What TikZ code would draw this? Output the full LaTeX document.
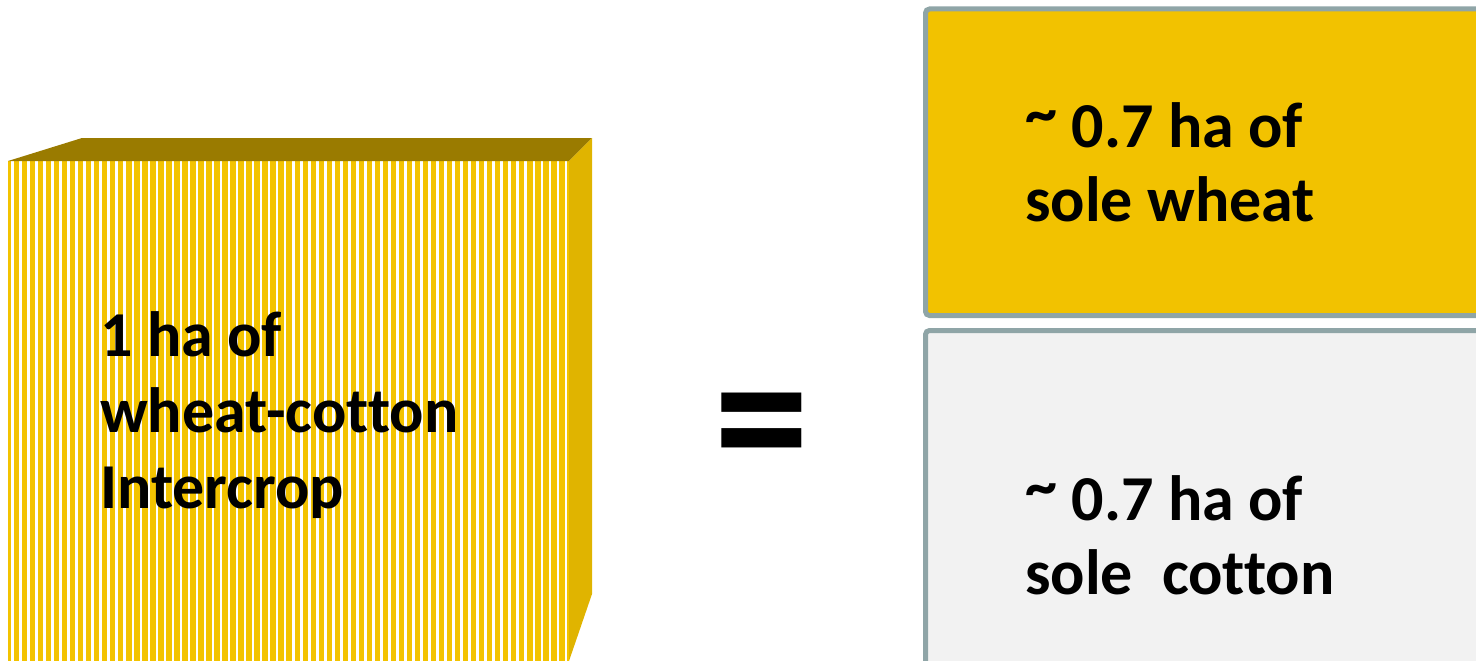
\documentclass[tikz,border=0pt]{standalone}
\usepackage{fontspec}
\setmainfont[Ligatures=NoCommon]{Carlito}
\definecolor{stripey}{HTML}{F3C300}
\definecolor{topface}{HTML}{9A7B00}
\definecolor{sideface}{HTML}{E0B400}
\definecolor{wheatbox}{HTML}{F2C200}
\definecolor{cottonbox}{HTML}{F2F2F2}
\definecolor{boxline}{HTML}{8FA5A7}
\newcommand{\rtilde}{\raisebox{0.2em}{\textasciitilde}}
\tikzset{
  lbl/.style={inner sep=0pt, align=left, anchor=base west, text=black,
    font=\bfseries\fontsize{64}{76}\selectfont},
  rlbl/.style={lbl, font=\bfseries\fontsize{64}{74}\selectfont},
  cropbox/.style={draw=boxline, line width=5pt, rounded corners=4pt},
  stripe/.style={white, line width=2.6pt}
}
\begin{document}
\begin{tikzpicture}[x=1pt,y=-1pt]
\useasboundingbox (0,0) rectangle (1476,661);
\clip (0,0) rectangle (1476,661);
% cube
\fill[stripey] (8,161) rectangle (569,670);
\foreach \i in {0,...,69} \draw[stripe] ({12.5+8.02*\i},161) -- ++(0,510);
\fill[topface] (8,161) -- (82,138) -- (592,138) -- (569,161) -- cycle;
\fill[sideface] (569,161) -- (592,138) -- (592,594) -- (569,661) -- cycle;
\node[lbl] (left) at (100,508) {1 ha of\\wheat-cotton\\Intercrop};
% equals
\node[inner sep=0pt, font=\bfseries\fontsize{196}{196}\selectfont] (eq) at (761.5,440) {\scalebox{0.97}[1.08]{=}};
% boxes
\draw[cropbox, fill=wheatbox] (925.5,9) rectangle (1500,315.5);
\draw[cropbox, fill=cottonbox] (925.5,330.5) rectangle (1500,690);
\node[rlbl] (wheat) at (1025,221) {\rtilde{} 0.7 ha of\\sole wheat};
\node[rlbl] (cotton) at (1025,594) {\rtilde{} 0.7 ha of\\sole\ \ cotton};
\end{tikzpicture}
\end{document}
